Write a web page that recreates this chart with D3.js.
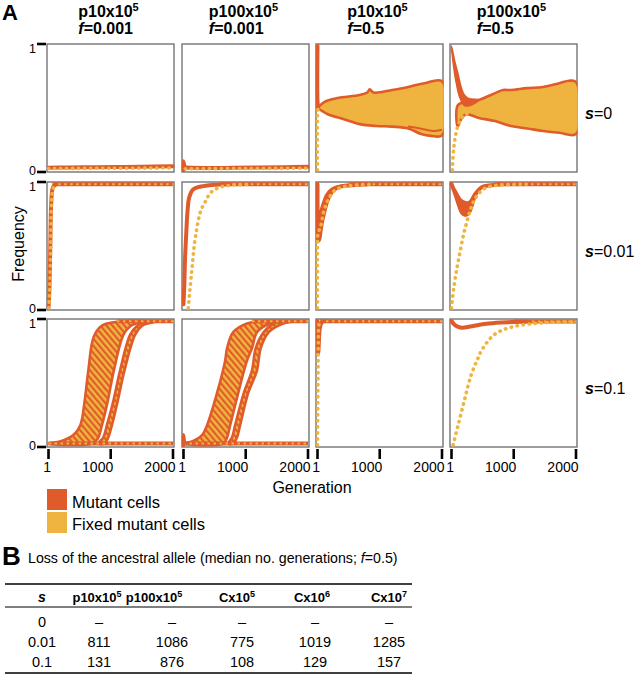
<!DOCTYPE html>
<html><head><meta charset="utf-8">
<script src="https://cdn.jsdelivr.net/npm/d3@7"></script>
<style>
body{margin:0;background:#fff}
svg{display:block}
text{font-family:"Liberation Sans",Arial,Helvetica,sans-serif;fill:#000}
</style>
</head><body>
<svg id="chart" width="634" height="675"></svg>
<script>
// ================= DATA =================
const colStrain = ["p10", "p100", "p10", "p100"];
const colF = ["0.001", "0.001", "0.5", "0.5"];
const rowS = ["0", "0.01", "0.1"];
const genTicks = [1, 1000, 2000];
const freqTicks = [0, 1];
const legendItems = ["Mutant cells", "Fixed mutant cells"];

// ---- row 1 : s = 0 ----  [generation, frequency]
const r1c1Mutant = [[1,0.018],[300,0.02],[700,0.022],[1100,0.024],[1500,0.026],[2000,0.03]];
const r1c1Fixed  = [[1,0.012],[1000,0.014],[2000,0.016]];
const r1c2Spike  = [[1,0.0],[1,0.07],[15,0.03]];
const r1c2Mutant = [[15,0.02],[400,0.016],[800,0.018],[1200,0.02],[1600,0.022],[2000,0.026]];
const r1c2Fixed  = [[30,0.01],[1000,0.012],[2000,0.014]];
const r1c3Drop   = [[1,1.0],[1,0.56],[12,0.5]];
const r1c3Rise   = [[1,0.0],[1,0.45],[12,0.5]];
const r1c3Upper  = [[1,0.5],[114,0.55],[320,0.58],[680,0.605],[800,0.625],[840,0.65],[900,0.625],[1200,0.645],[1460,0.67],[1720,0.70],[2000,0.715]];
const r1c3Lower  = [[1,0.5],[165,0.45],[425,0.41],[680,0.37],[940,0.355],[1200,0.35],[1460,0.335],[1665,0.29],[1820,0.275],[2000,0.28]];
const r1c3Inner  = [[1450,0.35],[1650,0.335],[1850,0.315],[2000,0.325]];
const r1c4WedgeUpper = [[1,1.0],[52,0.88],[103,0.78],[155,0.67],[207,0.605],[285,0.575],[440,0.565]];
const r1c4WedgeLower = [[1,0.97],[10,0.94],[36,0.83],[78,0.70],[130,0.59],[207,0.52],[300,0.52]];
const r1c4Rise   = [[15,0.0],[36,0.17],[67,0.28],[103,0.355],[155,0.41],[232,0.45],[336,0.47]];
const r1c4Upper  = [[100,0.52],[232,0.55],[440,0.565],[700,0.62],[830,0.645],[955,0.645],[1215,0.66],[1470,0.67],[1730,0.70],[1890,0.72],[2000,0.71]];
const r1c4Lower  = [[100,0.35],[155,0.41],[232,0.45],[440,0.42],[700,0.395],[955,0.355],[1215,0.335],[1470,0.315],[1730,0.30],[2000,0.29]];

// ---- row 2 : s = 0.01 ----
const r2c1Mutant = [[1,0.0],[15,0.15],[30,0.5],[45,0.85],[70,0.97],[110,0.995]];
const r2c1Fixed  = [[5,0.0],[20,0.15],[35,0.5],[50,0.85],[80,0.97],[130,0.995]];
const r2c1Top    = [[60,0.997],[2000,0.997]];
const r2c2Mutant = [[1,0.03],[15,0.2],[26,0.4],[45,0.6],[67,0.79],[92,0.89],[154,0.956],[282,0.98],[487,0.993],[744,0.998]];
const r2c2Fixed  = [[77,0.0],[128,0.27],[180,0.53],[231,0.685],[282,0.79],[359,0.865],[436,0.93],[590,0.975],[795,0.992],[1100,0.997]];
const r2c2Top    = [[600,0.998],[2000,0.998]];
const r2c3Low    = [[1,1.0],[3,0.7],[10,0.56],[26,0.545],[50,0.62],[77,0.70],[155,0.857],[232,0.935],[335,0.974],[541,0.99],[800,0.998]];
const r2c3High   = [[1,1.0],[8,0.8],[30,0.78],[77,0.84],[130,0.91],[200,0.955],[300,0.982],[500,0.995],[800,0.998]];
const r2c3Fixed  = [[1,0.0],[1,0.5],[10,0.6],[52,0.66],[103,0.78],[180,0.88],[283,0.95],[438,0.98],[644,0.993],[900,0.997]];
const r2c3Top    = [[500,0.998],[2000,0.998]];
const r2c4Low    = [[1,1.0],[68,0.91],[120,0.83],[172,0.766],[225,0.75],[277,0.766],[329,0.83],[381,0.91],[486,0.974],[642,0.99],[800,0.998]];
const r2c4High   = [[1,1.0],[68,0.95],[172,0.87],[277,0.857],[381,0.935],[538,0.987],[800,0.998]];
const r2c4Fixed  = [[1,0.0],[42,0.18],[94,0.34],[146,0.47],[198,0.60],[251,0.70],[303,0.79],[355,0.857],[433,0.92],[538,0.966],[694,0.987],[903,0.995],[1200,0.998]];
const r2c4Top    = [[700,0.998],[2000,0.998]];

// ---- row 3 : s = 0.1 ----
const r3c1Base   = [[1,0.012],[2000,0.012]];
const r3c1Top    = [[1100,0.997],[2000,0.997]];
const r3c1Band1L = [[1,0.012],[200,0.03],[400,0.08],[512,0.16],[580,0.35],[640,0.6],[725,0.87],[850,0.96],[1045,0.99],[1250,0.997]];
const r3c1Band1R = [[700,0.012],[790,0.05],[859,0.16],[950,0.35],[1050,0.6],[1205,0.89],[1320,0.96],[1472,0.99],[1600,0.997]];
const r3c1Band2L = [[800,0.012],[880,0.06],[939,0.16],[1040,0.35],[1150,0.6],[1312,0.89],[1420,0.96],[1525,0.99],[1650,0.997]];
const r3c1Band2R = [[900,0.012],[960,0.06],[1019,0.16],[1110,0.35],[1220,0.6],[1392,0.89],[1500,0.96],[1685,0.99],[1800,0.997]];
const r3c2Spike  = [[1,0.0],[1,0.08],[12,0.02]];
const r3c2Base   = [[1,0.012],[2000,0.012]];
const r3c2Top    = [[1100,0.997],[2000,0.997]];
const r3c2Band1L = [[1,0.012],[150,0.03],[300,0.08],[380,0.16],[540,0.42],[670,0.68],[700,0.78],[800,0.91],[1020,0.98],[1230,0.997]];
const r3c2Band1R = [[640,0.012],[700,0.06],[750,0.16],[880,0.42],[1020,0.68],[1100,0.78],[1180,0.91],[1340,0.97],[1550,0.997]];
const r3c2Band2L = [[720,0.012],[780,0.06],[830,0.16],[970,0.42],[1100,0.6],[1160,0.78],[1290,0.91],[1450,0.98],[1600,0.997]];
const r3c2Band2R = [[800,0.012],[860,0.06],[910,0.16],[1040,0.42],[1180,0.6],[1240,0.78],[1370,0.91],[1600,0.98],[1750,0.997]];
const r3c3Mutant = [[1,1.0],[5,0.85],[12,0.74],[20,0.8],[30,0.9],[45,0.96],[70,0.99],[100,0.997]];
const r3c3Fixed  = [[1,0.0],[5,0.3],[10,0.6],[15,0.85],[25,0.97],[50,0.997]];
const r3c3Top    = [[40,0.997],[2000,0.997]];
const r3c4Mutant = [[1,1.0],[50,0.97],[100,0.955],[170,0.945],[300,0.955],[450,0.97],[600,0.98],[900,0.99],[1200,0.995]];
const r3c4Fixed  = [[27,0.0],[107,0.16],[213,0.37],[320,0.57],[427,0.70],[480,0.76],[688,0.89],[960,0.95],[1330,0.98],[1650,0.99],[2000,0.995]];
const r3c4Top    = [[1000,0.996],[2000,0.996]];

// ---- table B ----
const tableTitle = "Loss of the ancestral allele (median no. generations; ";
const tableColBase = ["p10x10", "p100x10", "Cx10", "Cx10", "Cx10"];
const tableColSup  = ["5", "5", "5", "6", "7"];
const tableS = ["0", "0.01", "0.1"];
const tableValues = [
  [null, null, null, null, null],
  [811, 1086, 775, 1019, 1285],
  [131, 876, 108, 129, 157]
];

// ================= LAYOUT / STYLE =================
const MUT = "#e05b2a", FIX = "#efb43f", BORDER = "#747474";
const colX = [47, 182, 316, 450], rowY = [44, 182, 319], PW = 127, PH = 128;

const panels = [
  {r:0,c:0, mutant:[r1c1Mutant], fixed:[r1c1Fixed]},
  {r:0,c:1, mutant:[r1c2Spike, r1c2Mutant], fixed:[r1c2Fixed]},
  {r:0,c:2, bands:[[r1c3Upper,r1c3Lower]], thin:[r1c3Inner], mutant:[r1c3Drop], fixed:[r1c3Rise]},
  {r:0,c:3, bands:[[r1c4Upper,r1c4Lower]], wedges:[[r1c4WedgeUpper,r1c4WedgeLower]], fixed:[r1c4Rise]},
  {r:1,c:0, mixed:[r2c1Top], mutant:[r2c1Mutant], fixed:[r2c1Fixed]},
  {r:1,c:1, mixed:[r2c2Top], mutant:[r2c2Mutant], fixed:[r2c2Fixed]},
  {r:1,c:2, mixed:[r2c3Top], wedges:[[r2c3High,r2c3Low]], mutant:[r2c3Low], fixed:[r2c3Fixed]},
  {r:1,c:3, mixed:[r2c4Top], wedges:[[r2c4High,r2c4Low]], mutant:[r2c4Low], fixed:[r2c4Fixed]},
  {r:2,c:0, hatch:[[r3c1Band1L,r3c1Band1R],[r3c1Band2L,r3c1Band2R]], mixed:[r3c1Base, r3c1Top]},
  {r:2,c:1, hatch:[[r3c2Band1L,r3c2Band1R],[r3c2Band2L,r3c2Band2R]], mixed:[r3c2Base, r3c2Top], mutant:[r3c2Spike]},
  {r:2,c:2, mixed:[r3c3Top], mutant:[r3c3Mutant], fixed:[r3c3Fixed]},
  {r:2,c:3, mixed:[r3c4Top], mutant:[r3c4Mutant], fixed:[r3c4Fixed]}
];

const svg = d3.select("#chart");
const defs = svg.append("defs");
const pat = defs.append("pattern").attr("id","hatch").attr("patternUnits","userSpaceOnUse")
  .attr("width",4.6).attr("height",4.6).attr("patternTransform","rotate(-40)");
pat.append("rect").attr("width",4.6).attr("height",4.6).attr("fill",FIX);
pat.append("rect").attr("width",2.1).attr("height",4.6).attr("fill",MUT);

const xScale = c => d3.scaleLinear().domain([1,2000]).range([colX[c]+1.5, colX[c]+PW-1]);
const yScale = r => d3.scaleLinear().domain([0,1]).range([rowY[r]+PH-2, rowY[r]+2]);

panels.forEach((p,i) => {
  const x = xScale(p.c), y = yScale(p.r);
  const g = svg.append("g");
  g.append("rect").attr("x",colX[p.c]).attr("y",rowY[p.r]).attr("width",PW).attr("height",PH)
    .attr("fill","none").attr("stroke",BORDER).attr("stroke-width",1.4);
  defs.append("clipPath").attr("id","clip"+i).append("rect")
    .attr("x",colX[p.c]-0.5).attr("y",rowY[p.r]-1).attr("width",PW+1).attr("height",PH+2);
  const dg = g.append("g").attr("clip-path",`url(#clip${i})`);
  const line = d3.line().x(d=>x(d[0])).y(d=>y(d[1])).curve(d3.curveCatmullRom.alpha(0.5));
  const poly = d3.line().x(d=>x(d[0])).y(d=>y(d[1])).curve(d3.curveCatmullRomClosed.alpha(0.5));
  const shape = ([a,b]) => poly(a.concat(b.slice().reverse()));

  (p.bands||[]).forEach(b => dg.append("path").attr("d",shape(b)).attr("fill",FIX)
    .attr("stroke",MUT).attr("stroke-width",2.6).attr("stroke-linejoin","round"));
  (p.thin||[]).forEach(l => dg.append("path").attr("d",line(l)).attr("fill","none")
    .attr("stroke",MUT).attr("stroke-width",2));
  (p.hatch||[]).forEach(b => dg.append("path").attr("d",shape(b)).attr("fill","url(#hatch)")
    .attr("stroke",MUT).attr("stroke-width",2.6).attr("stroke-linejoin","round"));
  (p.wedges||[]).forEach(b => dg.append("path").attr("d",shape(b)).attr("fill",MUT)
    .attr("stroke",MUT).attr("stroke-width",1.5));
  (p.mixed||[]).forEach(l => {
    dg.append("path").attr("d",line(l)).attr("fill","none").attr("stroke",MUT).attr("stroke-width",4);
    dg.append("path").attr("d",line(l)).attr("fill","none").attr("stroke",FIX).attr("stroke-width",2)
      .attr("stroke-dasharray","2.5 3.5");
  });
  (p.mutant||[]).forEach(l => dg.append("path").attr("d",line(l)).attr("fill","none")
    .attr("stroke",MUT).attr("stroke-width",4).attr("stroke-linecap","round"));
  (p.fixed||[]).forEach(l => dg.append("path").attr("d",line(l)).attr("fill","none")
    .attr("stroke",FIX).attr("stroke-width",3.6).attr("stroke-linecap","round")
    .attr("stroke-dasharray","0.4 5.6"));
});

// y axis ticks (column 1 only)
rowY.forEach((ry,r) => {
  const y = d3.scaleLinear().domain([0,1]).range([ry+PH, ry]);
  freqTicks.forEach(t => {
    svg.append("line").attr("x1",37).attr("x2",46).attr("y1",y(t)).attr("y2",y(t))
      .attr("stroke","#000").attr("stroke-width",2.6);
    svg.append("text").attr("x",36).attr("y",y(t) + (t === 1 ? 9 : 3)).attr("text-anchor","end")
      .attr("font-size",12.5).text(t);
  });
});

// x axis ticks (bottom row)
colX.forEach((cx,c) => {
  const x = xScale(c);
  const by = rowY[2]+PH;
  genTicks.forEach(t => {
    svg.append("line").attr("x1",x(t)).attr("x2",x(t)).attr("y1",by+2).attr("y2",by+12)
      .attr("stroke","#000").attr("stroke-width",2.6);
    svg.append("text").attr("x",x(t)+2.5).attr("y",by+25).attr("text-anchor","end")
      .attr("font-size",14).text(t);
  });
});

// column headers
colStrain.forEach((s,c) => {
  const cx = colX[c] + PW/2 - 2;
  const t1 = svg.append("text").attr("x",cx).attr("y",17).attr("text-anchor","middle")
    .attr("font-weight","bold").attr("font-size",16);
  t1.append("tspan").text(s+"x10");
  t1.append("tspan").attr("dy",-6).attr("font-size",11).text("5");
  const bb = t1.node().getBBox();
  const t2 = svg.append("text").attr("x",bb.x).attr("y",34)
    .attr("font-weight","bold").attr("font-size",16);
  t2.append("tspan").attr("font-style","italic").text("f");
  t2.append("tspan").text("=" + colF[c]);
});

// row labels
rowS.forEach((s,r) => {
  const t = svg.append("text").attr("x",585).attr("y",rowY[r]+PH/2+11).attr("font-size",16);
  t.append("tspan").attr("font-style","italic").attr("font-weight","bold").text("s");
  t.append("tspan").text("=" + s);
});

// panel letter A
svg.append("text").attr("x",2).attr("y",20).attr("font-weight","bold").attr("font-size",22).text("A");

// axis titles
svg.append("text").attr("x",312).attr("y",493).attr("text-anchor","middle").attr("font-size",16).text("Generation");
svg.append("text").attr("transform","translate(24,244) rotate(-90)").attr("text-anchor","middle")
  .attr("font-size",16).text("Frequency");

// legend
legendItems.forEach((l,i) => {
  svg.append("rect").attr("x",47).attr("y",489+i*23).attr("width",20).attr("height",21)
    .attr("fill", i===0 ? MUT : FIX);
  svg.append("text").attr("x",72).attr("y",508+i*22).attr("font-size",16.5).text(l);
});

// ---- table B ----
svg.append("text").attr("x",2).attr("y",565).attr("font-weight","bold").attr("font-size",26).text("B");
const tt = svg.append("text").attr("x",28).attr("y",563).attr("font-size",14.2);
tt.append("tspan").text(tableTitle);
tt.append("tspan").attr("font-style","italic").text("f");
tt.append("tspan").text("=0.5)");

svg.append("line").attr("x1",5).attr("x2",412).attr("y1",584).attr("y2",584).attr("stroke","#000").attr("stroke-width",1.5);
svg.append("line").attr("x1",5).attr("x2",412).attr("y1",607).attr("y2",607).attr("stroke","#000").attr("stroke-width",1.2);
svg.append("line").attr("x1",5).attr("x2",412).attr("y1",673).attr("y2",673).attr("stroke","#000").attr("stroke-width",1.5);

const hdrX = [42, 97, 154, 237, 312, 389];
const valX = [42, 99, 172, 242, 315, 389];
svg.append("text").attr("x",hdrX[0]).attr("y",602).attr("text-anchor","middle")
  .attr("font-weight","bold").attr("font-style","italic").attr("font-size",14).text("s");
tableColBase.forEach((b,j) => {
  const t = svg.append("text").attr("x",hdrX[j+1]).attr("y",602)
    .attr("text-anchor","middle").attr("font-weight","bold").attr("font-size",13);
  t.append("tspan").text(b);
  t.append("tspan").attr("dy",-5).attr("font-size",9).text(tableColSup[j]);
});
tableS.forEach((s,i) => {
  const yy = 627 + i*20;
  svg.append("text").attr("x",valX[0]).attr("y",yy).attr("text-anchor","middle")
    .attr("font-size",14.5).text(s);
  tableValues[i].forEach((v,j) => {
    svg.append("text").attr("x",valX[j+1]).attr("y",yy).attr("text-anchor","middle")
      .attr("font-size",14.5).text(v === null ? "\u2013" : v);
  });
});
</script>
</body></html>
